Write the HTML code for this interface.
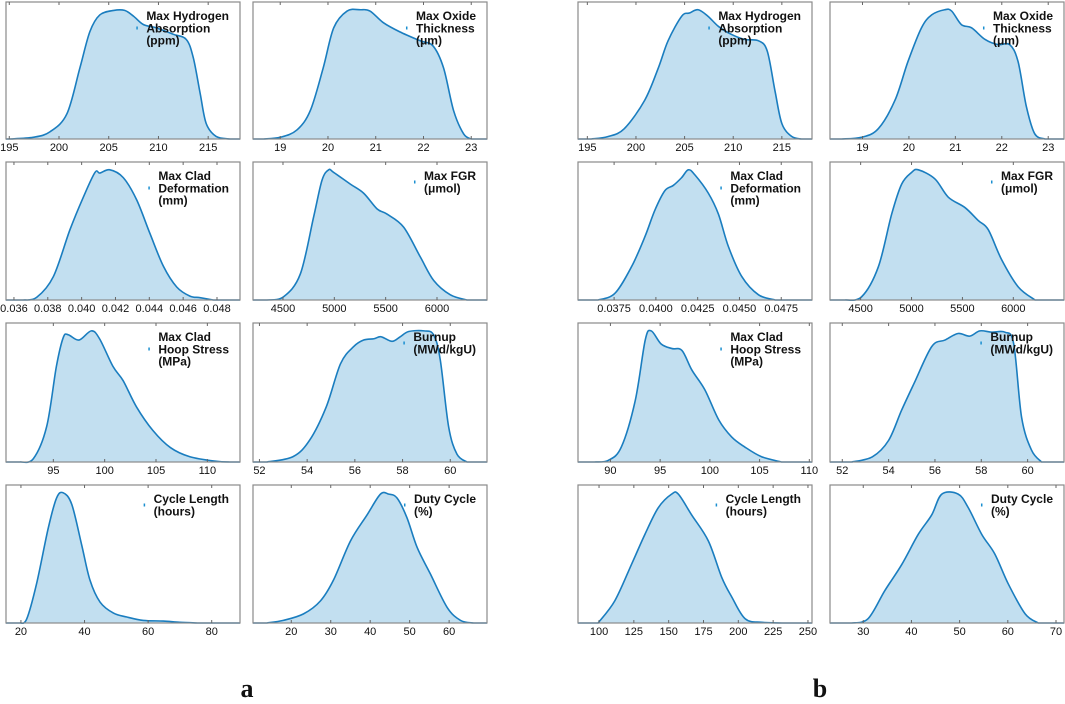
<!DOCTYPE html>
<html><head><meta charset="utf-8">
<style>
body{margin:0;background:#fff;width:1065px;height:704px;overflow:hidden;font-family:"Liberation Sans",sans-serif}
svg{position:absolute;left:0;top:0}
.lbl{font:bold 12px "Liberation Sans",sans-serif;fill:#111}
.tk{font:11px "Liberation Sans",sans-serif;fill:#111}
</style></head><body>
<svg id="chart" width="1065" height="704"></svg>
<script>
// ---- data (x values in data units, density as fraction of peak) ----
const labels_a1=["Max Hydrogen","Absorption","(ppm)"];
const xs_a1=[195,197.4,199.1,200.8,202.1,203.1,204.1,205.5,206.6,207.5,208.5,209.8,211.5,212.8,213.5,214.2,214.8,215.8,217.2];
const ys_a1=[0,0.013,0.056,0.196,0.55,0.83,0.96,0.995,0.995,0.95,0.885,0.86,0.81,0.77,0.63,0.35,0.12,0.02,0];
const ticks_a1=[195,200,205,210,215];
const labels_a2=["Max Oxide","Thickness","(μm)"];
const xs_a2=[18.65,19,19.35,19.63,19.9,20.12,20.4,20.68,20.88,21.16,21.5,21.93,22.2,22.42,22.63,22.84,23];
const ys_a2=[0,0.013,0.07,0.22,0.55,0.86,0.99,1,0.99,0.9,0.83,0.76,0.72,0.55,0.22,0.04,0];
const ticks_a2=[19,20,21,22,23];
const labels_a3=["Max Clad","Deformation","(mm)"];
const xs_a3=[0.03655,0.03734,0.03833,0.03931,0.0401,0.04079,0.04108,0.04167,0.04246,0.04325,0.04404,0.04483,0.04562,0.0464,0.047,0.04778];
const ys_a3=[0,0.02,0.18,0.54,0.79,0.98,0.975,1,0.94,0.77,0.51,0.26,0.1,0.03,0.018,0];
const ticks_a3=[0.036,0.038,0.040,0.042,0.044,0.046,0.048];
const ticklbl_a3=["0.036","0.038","0.040","0.042","0.044","0.046","0.048"];
const labels_a4=["Max FGR","(μmol)"];
const xs_a4=[4344,4506,4669,4799,4880,4945,4994,5156,5286,5416,5513,5675,5838,5968,6130,6292];
const ys_a4=[0,0.025,0.2,0.64,0.92,1,0.98,0.89,0.82,0.7,0.66,0.56,0.33,0.15,0.04,0];
const ticks_a4=[4500,5000,5500,6000];
const labels_a5=["Max Clad","Hoop Stress","(MPa)"];
const xs_a5=[91.75,93.05,94.35,95.3,95.97,96.46,97.5,98.7,99.5,100.8,101.8,103.1,104.7,106.4,108.3,110.9,112.2];
const ys_a5=[0,0.025,0.27,0.73,0.95,0.97,0.93,1,0.94,0.73,0.62,0.42,0.24,0.11,0.04,0.005,0];
const ticks_a5=[95,100,105,110];
const labels_a6=["Burnup","(MWd/kgU)"];
const xs_a6=[52.3,53.4,54.1,54.8,55.4,55.95,56.37,56.8,57.1,57.56,57.9,58.26,58.9,59.3,59.58,59.93,60.28,60.7];
const ys_a6=[0,0.04,0.165,0.42,0.75,0.88,0.93,0.94,0.955,0.92,0.955,0.995,1,0.97,0.78,0.27,0.06,0];
const ticks_a6=[52,54,56,58,60];
const labels_a7=["Cycle Length","(hours)"];
const xs_a7=[19.7,21.8,24.9,28.6,31.2,33.3,36,39.1,41.7,44.9,49.1,53.3,58.5,64.8,70,76];
const ys_a7=[0,0.03,0.3,0.73,0.96,1,0.91,0.6,0.33,0.16,0.076,0.046,0.02,0.015,0.005,0];
const ticks_a7=[20,40,60,80];
const labels_a8=["Duty Cycle","(%)"];
const xs_a8=[13.8,18,23.1,27.4,30.7,35,39.2,42.6,44.7,46.8,49.3,51.9,55.2,59.5,62.9,66.2];
const ys_a8=[0,0.02,0.07,0.17,0.33,0.63,0.83,0.99,0.99,0.96,0.81,0.58,0.38,0.12,0.02,0];
const ticks_a8=[20,30,40,50,60];
const xs_b1=[195.4,197.1,198.8,200.9,202.3,203.3,204.7,205.5,206.4,207.4,208.5,209.8,211.2,212.6,213.5,214.3,215,216,217];
const ys_b1=[0,0.018,0.08,0.3,0.55,0.76,0.95,0.975,1,0.95,0.87,0.81,0.77,0.76,0.68,0.37,0.12,0.02,0];
const xs_b2=[18.55,18.98,19.34,19.7,19.98,20.27,20.49,20.77,20.92,21.13,21.35,21.64,21.92,22.17,22.35,22.53,22.71,22.93];
const ys_b2=[0,0.013,0.08,0.3,0.6,0.86,0.96,1,0.99,0.885,0.86,0.77,0.73,0.73,0.6,0.25,0.04,0];
const xs_b3=[0.03654,0.03754,0.03854,0.03934,0.03994,0.04054,0.04104,0.04154,0.04194,0.04234,0.04314,0.04374,0.04434,0.04514,0.04614,0.04714];
const ys_b3=[0,0.05,0.255,0.485,0.69,0.84,0.88,0.94,1,0.96,0.82,0.66,0.41,0.18,0.04,0];
const ticks_b3=[0.0375,0.04,0.0425,0.045,0.0475];
const ticklbl_b3=["0.0375","0.0400","0.0425","0.0450","0.0475"];
const xs_b4=[4346,4510,4674,4805,4903,5001,5067,5230,5361,5525,5656,5754,5885,6049,6213];
const ys_b4=[0,0.025,0.255,0.66,0.89,0.98,1,0.93,0.79,0.71,0.61,0.54,0.31,0.1,0];
const xs_b5=[88.4,89.8,91.1,92.5,93.5,94.1,95.1,96.2,97.2,98.2,99.5,100.9,102.2,103.5,105.2,107.2];
const ys_b5=[0,0.013,0.115,0.47,0.93,1,0.9,0.865,0.85,0.7,0.55,0.32,0.19,0.115,0.04,0];
const ticks_b5=[90,95,100,105,110];
const xs_b6=[52.4,53.3,54,54.56,55.1,55.86,56.43,57,57.5,57.94,58.45,59.02,59.4,59.74,60.17,60.6];
const ys_b6=[0,0.04,0.165,0.395,0.6,0.88,0.93,0.98,0.96,1,0.99,0.99,0.9,0.34,0.09,0];
const xs_b7=[99.3,111.3,123.3,132.9,142.5,152.1,156.9,166.5,178.5,188.1,195.3,204.9,216.9,231.3];
const ys_b7=[0,0.17,0.45,0.68,0.885,0.99,0.99,0.83,0.63,0.35,0.2,0.033,0.005,0];
const ticks_b7=[100,125,150,175,200,225,250];
const xs_b8=[27.6,31,34.5,38,41.4,44.2,46.3,49.7,51.8,54.6,57.3,60.1,63.6,66.3];
const ys_b8=[0,0.033,0.25,0.45,0.68,0.83,0.99,0.99,0.885,0.68,0.53,0.3,0.07,0];
const ticks_b8=[30,40,50,60,70];

const NS="http://www.w3.org/2000/svg";
const svg=document.getElementById('chart');
function mk(tag,attrs,parent){const e=document.createElementNS(NS,tag);for(const k in attrs)e.setAttribute(k,attrs[k]);(parent||svg).appendChild(e);return e;}
const colsA=[[6,240],[253,487]],colsB=[[578,812],[830,1064]];
const rows=[[2,139],[162,300],[323,462],[485,623]];
function panel(name,col,row,dom,xs,ys,ticks,tlbl,labels){
  const [x0,x1]=col,[y0,y1]=row;
  const g=mk('g',{});
  
  
  const sx=v=>x0+(v-dom[0])/(dom[1]-dom[0])*(x1-x0);
  const sy=d=>y1-d/1.06*(y1-y0);
  const P=xs.map((x,i)=>[sx(x),sy(ys[i])]);
  let d=`M${P[0][0]},${P[0][1]}`;
  let c='';
  for(let i=0;i<P.length-1;i++){const p0=P[i-1]||P[i],p1=P[i],p2=P[i+1],p3=P[i+2]||P[i+1];
    c+=` C${p1[0]+(p2[0]-p0[0])/6},${p1[1]+(p2[1]-p0[1])/6} ${p2[0]-(p3[0]-p1[0])/6},${p2[1]-(p3[1]-p1[1])/6} ${p2[0]},${p2[1]}`;}
  const fill=mk('path',{d:d+c+` L${P[P.length-1][0]},${y1} L${P[0][0]},${y1} Z`,fill:'#c2dff0',stroke:'none'},g);
  
  
  const ln=mk('path',{d:`M${x0},${y1} L${P[0][0]},${P[0][1]}`+c+` L${x1},${y1}`,fill:'none',stroke:'#1a7dbf','stroke-width':1.6},g);
  
  
  const fr=mk('rect',{x:x0,y:y0,width:x1-x0,height:y1-y0,fill:'none',stroke:'#8a8a8a','stroke-width':1.2},g);
  
  
  ticks.forEach((t,i)=>{const x=sx(t);
    mk('line',{x1:x,x2:x,y1:y1,y2:y1-3,stroke:'#666'},g);
    mk('line',{x1:x,x2:x,y1:y0,y2:y0+3,stroke:'#666'},g);
    const tx=mk('text',{x:x,y:y1+12,'text-anchor':'middle',class:'tk'},g);
    tx.textContent=tlbl?tlbl[i]:String(t);
    
    });
  const ly=y0+18;
  const texts=labels.map((s,i)=>{const t=mk('text',{x:0,y:ly+i*12.3,class:'lbl'},g);t.textContent=s;
    
    return t;});
  const lw=Math.max(...texts.map(t=>t.getComputedTextLength()));
  const lx=x1-11-lw;
  texts.forEach(t=>t.setAttribute('x',lx));
  const mid=ly-4+(labels.length-1)*6;
  const mkr=mk('rect',{x:lx-10,y:mid-1.5,width:1.5,height:3,fill:'#1a8fd0'},g);
  
  
}
panel('a-hydrogen-absorption',colsA[0],rows[0],[194.67,218.2],xs_a1,ys_a1,ticks_a1,null,labels_a1);
panel('a-oxide-thickness',colsA[1],rows[0],[18.43,23.33],xs_a2,ys_a2,ticks_a2,null,labels_a2);
panel('a-clad-deformation',colsA[0],rows[1],[0.03553,0.04936],xs_a3,ys_a3,ticks_a3,ticklbl_a3,labels_a3);
panel('a-fgr',colsA[1],rows[1],[4208,6487],xs_a4,ys_a4,ticks_a4,null,labels_a4);
panel('a-hoop-stress',colsA[0],rows[2],[90.39,113.18],xs_a5,ys_a5,ticks_a5,null,labels_a5);
panel('a-burnup',colsA[1],rows[2],[51.73,61.54],xs_a6,ys_a6,ticks_a6,null,labels_a6);
panel('a-cycle-length',colsA[0],rows[3],[15.3,88.9],xs_a7,ys_a7,ticks_a7,null,labels_a7);
panel('a-duty-cycle',colsA[1],rows[3],[10.3,69.6],xs_a8,ys_a8,ticks_a8,null,labels_a8);
panel('b-hydrogen-absorption',colsB[0],rows[0],[194.04,218.1],xs_b1,ys_b1,ticks_a1,null,labels_a1);
panel('b-oxide-thickness',colsB[1],rows[0],[18.3,23.34],xs_b2,ys_b2,ticks_a2,null,labels_a2);
panel('b-clad-deformation',colsB[0],rows[1],[0.03534,0.04934],xs_b3,ys_b3,ticks_b3,ticklbl_b3,labels_a3);
panel('b-fgr',colsB[1],rows[1],[4199,6498],xs_b4,ys_b4,ticks_a4,null,labels_a4);
panel('b-hoop-stress',colsB[0],rows[2],[86.74,110.27],xs_b5,ys_b5,ticks_b5,null,labels_a5);
panel('b-burnup',colsB[1],rows[2],[51.47,61.57],xs_b6,ys_b6,ticks_a6,null,labels_a6);
panel('b-cycle-length',colsB[0],rows[3],[84.9,252.9],xs_b7,ys_b7,ticks_b7,null,labels_a7);
panel('b-duty-cycle',colsB[1],rows[3],[23.1,71.66],xs_b8,ys_b8,ticks_b8,null,labels_a8);
[['a',247],['b',820]].forEach(([s,x])=>{const t=mk('text',{x:x,y:697,'font-family':'Liberation Serif,serif','font-weight':'bold','font-size':26,fill:'#111','text-anchor':'middle'});t.textContent=s;
  
  });
</script>
</body></html>
